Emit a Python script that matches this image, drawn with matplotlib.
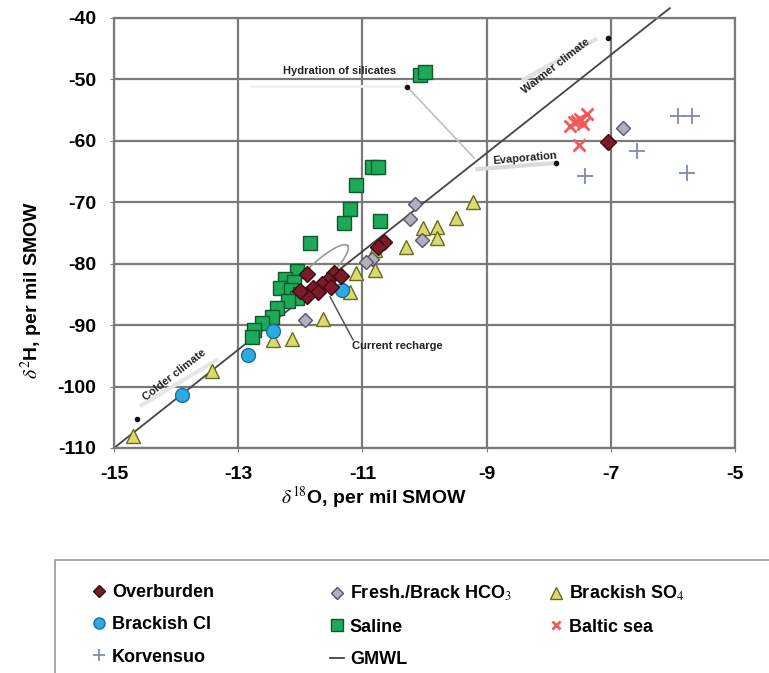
import numpy as np
import matplotlib.pyplot as plt
from matplotlib.patches import Rectangle
from matplotlib.lines import Line2D

plt.rcParams['font.family'] = ['Liberation Sans', 'DejaVu Sans']
plt.rcParams['mathtext.fontset'] = 'stix'
plt.rcParams['axes.unicode_minus'] = False

# data (d18O, d2H)
overburden_x = [-7.05, -10.65, -10.75, -11.45, -11.9, -11.35, -11.55, -11.65, -11.5, -11.8, -11.72, -11.9, -12.0]
overburden_y = [-60.2, -76.5, -77.3, -81.5, -81.6, -82.0, -82.7, -83.3, -83.8, -84.0, -84.6, -85.2, -84.5]

hco3_x = [-6.8, -10.15, -10.23, -10.04, -10.85, -10.95, -11.92]
hco3_y = [-57.9, -70.2, -72.7, -76.1, -79.3, -79.8, -89.2]

so4_x = [-9.22, -9.5, -10.02, -9.8, -9.8, -10.3, -10.8, -10.8, -11.1, -11.2, -11.63, -12.13, -12.44, -13.42, -14.69]
so4_y = [-70.0, -72.6, -74.2, -74.0, -75.8, -77.3, -77.8, -81.0, -81.5, -84.6, -89.0, -92.2, -92.4, -97.4, -108.0]

cl_x = [-11.33, -12.44, -12.84, -13.9]
cl_y = [-84.3, -90.9, -94.9, -101.3]

saline_x = [-10.07, -10.0, -10.85, -10.75, -11.1, -11.2, -11.3, -10.72, -11.85, -12.05, -12.25,
            -12.1, -12.33, -12.15, -12.0, -12.05, -12.2, -12.38, -12.45, -12.62, -12.75, -12.78]
saline_y = [-49.3, -48.8, -64.3, -64.2, -67.2, -71.1, -73.4, -73.0, -76.6, -81.2, -82.5,
            -83.0, -84.0, -84.3, -85.0, -85.6, -86.0, -87.2, -88.7, -89.7, -90.8, -91.9]

baltic_x = [-7.65, -7.6, -7.55, -7.5, -7.45, -7.38, -7.52]
baltic_y = [-57.5, -57.0, -56.8, -56.5, -57.2, -55.6, -60.6]

korv_x = [-5.92, -5.7, -6.58, -7.42, -5.77]
korv_y = [-56.0, -56.0, -61.7, -65.7, -65.2]

gmwl_x = [-15, -6.05]
gmwl_slope, gmwl_icpt = 8, 10

xticks = [-15, -13, -11, -9, -7, -5]
yticks = [-110, -100, -90, -80, -70, -60, -50, -40]

W, H = 769, 673
fig = plt.figure(figsize=(W / 100, H / 100), dpi=100)
ax = fig.add_axes([114 / W, 1 - 448 / H, (735 - 114) / W, (448 - 18) / H])
ax.set_xlim(-15, -5)
ax.set_ylim(-110, -40)
ax.set_xticks(xticks)
ax.set_yticks(yticks)
ax.tick_params(labelsize=14, length=3, color='#808080', pad=10)
for lab in ax.get_xticklabels() + ax.get_yticklabels():
    lab.set_fontweight('bold')
ax.grid(True, color='#7a7a7a', lw=1.6)
ax.set_axisbelow(True)
for sp in ax.spines.values():
    sp.set_color('#7a7a7a')
    sp.set_linewidth(1.6)

# GMWL
gx = np.array(gmwl_x)
ax.plot(gx, gmwl_slope * gx + gmwl_icpt, color='#444444', lw=1.3, clip_on=False, zorder=2)

# recharge loop
cx, cy = -11.71, -81.5
t = np.linspace(0, 2 * np.pi, 100)
ang = np.deg2rad(43)
px = 40 * np.cos(t) * np.cos(ang) - 10 * np.sin(t) * np.sin(ang)
py = 40 * np.cos(t) * np.sin(ang) + 10 * np.sin(t) * np.cos(ang)
ax.plot(cx + px / 62.1, cy + py / 6.143, color='#999999', lw=1.2, zorder=2)

# annotation lines
ax.plot([-10.28, -9.2], [-51.2, -62.8], color='#c0c0c0', lw=1.2, zorder=2)
ax.plot([-9.15, -7.88], [-64.6, -63.6], color='#dadada', lw=3, zorder=2)
ax.plot([-11.52, -11.15], [-85.4, -92.4], color='#555555', lw=1.1, zorder=2)
ax.plot([-12.8, -10.3], [-51.0, -51.0], color='#f0f0f0', lw=2, zorder=1)
ax.plot([-8.4, -7.25], [-50.0, -43.5], color='#e0e0e0', lw=3, zorder=1)
ax.plot([-14.55, -13.35], [-103.0, -95.7], color='#e6e6e6', lw=3, zorder=1)
dots_x = [-10.28, -7.88, -7.05, -14.63]
dots_y = [-51.2, -63.6, -43.3, -105.3]
ax.plot(dots_x, dots_y, 'o', color='#111111', ms=3, zorder=3)

afont = dict(fontsize=8, fontweight='bold', color='#222222', zorder=4)
ax.text(-11.36, -48.6, 'Hydration of silicates', ha='center', va='center', **afont)
ax.text(-8.38, -62.9, 'Evaporation', ha='center', va='center', rotation=5, **afont)
ax.text(-7.88, -47.8, 'Warmer climate', ha='center', va='center', rotation=38, **afont)
ax.text(-14.03, -98.1, 'Colder climate', ha='center', va='center', rotation=38, **afont)
ax.text(-10.43, -93.4, 'Current recharge', ha='center', va='center', **afont)

styles = {
    'Overburden': dict(marker='D', mfc='#7a1a2a', mec='#3a0a10', ms=8),
    'Fresh./Brack HCO$_3$': dict(marker='D', mfc='#b0b0c0', mec='#555566', ms=7.5),
    'Brackish SO$_4$': dict(marker='^', mfc='#d8dc70', mec='#6a6a20', ms=10),
    'Brackish Cl': dict(marker='o', mfc='#2eaae0', mec='#1870a0', ms=10),
    'Saline': dict(marker='s', mfc='#1ea85a', mec='#0a5a2a', ms=10),
    'Baltic sea': dict(marker='x', mfc='#f05a5a', mec='#f05a5a', ms=8, mew=2),
    'Korvensuo': dict(marker='+', mfc='#8088b8', mec='#8088b8', ms=11, mew=1.3),
}
series = [
    ('Saline', saline_x, saline_y),
    ('Brackish SO$_4$', so4_x, so4_y),
    ('Brackish Cl', cl_x, cl_y),
    ('Fresh./Brack HCO$_3$', hco3_x, hco3_y),
    ('Overburden', overburden_x, overburden_y),
    ('Baltic sea', baltic_x, baltic_y),
    ('Korvensuo', korv_x, korv_y),
]
for name, xs, ys in series:
    ax.plot(xs, ys, ls='none', zorder=3, **styles[name])

# axis titles
fig.text(32 / W, 1 - 290 / H, r'$\delta^2$H, per mil SMOW', rotation=90, ha='center', va='center',
         fontsize=14, fontweight='bold')
fig.text(374 / W, 1 - 497 / H, r'$\delta^{18}$O, per mil SMOW', ha='center', va='center',
         fontsize=14, fontweight='bold')

# legend box and three columns
fig.patches.append(Rectangle((55 / W, -0.01), 1.0, (673 - 560) / H + 0.01, transform=fig.transFigure,
                             fill=False, ec='#999999', lw=1.2))


def handle(name):
    if name == 'GMWL':
        return Line2D([], [], color='#444444', lw=1.3)
    st = dict(styles[name])
    st['ms'] = st['ms'] * 0.8
    return Line2D([], [], ls='none', **st)


columns = [(92, ['Overburden', 'Brackish Cl', 'Korvensuo']),
           (330, ['Fresh./Brack HCO$_3$', 'Saline', 'GMWL']),
           (549, ['Brackish SO$_4$', 'Baltic sea'])]
for xpos, names in columns:
    fig.legend([handle(n) for n in names], names, loc='upper left',
               bbox_to_anchor=(xpos / W, 1 - 584 / H), frameon=False,
               prop=dict(size=13, weight='bold'), handlelength=0.8, handletextpad=0.3,
               labelspacing=0.85, borderaxespad=0, borderpad=0)

fig.savefig('out.png', dpi=100)
